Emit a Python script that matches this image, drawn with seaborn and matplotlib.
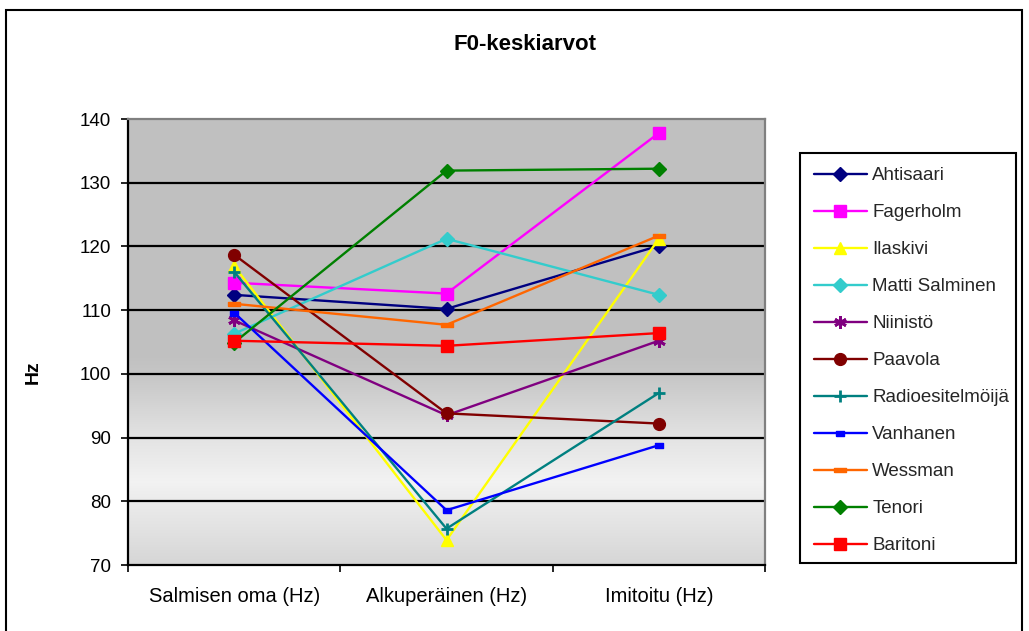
import numpy as np
import pandas as pd
import matplotlib
matplotlib.use("Agg")
import matplotlib.pyplot as plt
from matplotlib.patches import Rectangle
import seaborn as sns

# ---------------- data ----------------
categories = ["Salmisen oma (Hz)", "Alkuperäinen (Hz)", "Imitoitu (Hz)"]
speakers = ["Ahtisaari", "Fagerholm", "Ilaskivi", "Matti Salminen", "Niinistö",
            "Paavola", "Radioesitelmöijä", "Vanhanen", "Wessman", "Tenori", "Baritoni"]
ahtisaari = [112.4, 110.2, 120.1]
fagerholm = [114.3, 112.6, 137.8]
ilaskivi = [116.9, 73.9, 121.2]
matti_salminen = [106.3, 121.2, 112.4]
niinisto = [108.4, 93.5, 105.2]
paavola = [118.7, 93.8, 92.2]
radioesitelmoija = [116.0, 75.7, 97.0]
vanhanen = [109.6, 78.6, 88.8]
wessman = [111.0, 107.7, 121.7]
tenori = [104.9, 131.9, 132.2]
baritoni = [105.2, 104.4, 106.4]
series_values = [ahtisaari, fagerholm, ilaskivi, matti_salminen, niinisto, paavola,
                 radioesitelmoija, vanhanen, wessman, tenori, baritoni]
y_ticks = [70, 80, 90, 100, 110, 120, 130, 140]

rows = []
for name, vals in zip(speakers, series_values):
    for c, v in zip(categories, vals):
        rows.append({"puhuja": name, "kategoria": c, "Hz": v})
df = pd.DataFrame(rows)

# ---------------- styles ----------------
hbar = [(-1.0, -0.35), (1.0, -0.35), (1.0, 0.35), (-1.0, 0.35), (-1.0, -0.35)]
vrect = [(-1.0, -0.6), (1.0, -0.6), (1.0, 0.6), (-1.0, 0.6), (-1.0, -0.6)]
styles = {
    "Ahtisaari": dict(color="#000080", marker="D", ms=7.5),
    "Fagerholm": dict(color="#FF00FF", marker="s", ms=8),
    "Ilaskivi": dict(color="#FFFF00", marker="^", ms=9),
    "Matti Salminen": dict(color="#33CCCC", marker="D", ms=7.5),
    "Niinistö": dict(color="#800080", marker=(6, 2, 0), ms=9),
    "Paavola": dict(color="#800000", marker="o", ms=8.5),
    "Radioesitelmöijä": dict(color="#008080", marker="+", ms=9),
    "Vanhanen": dict(color="#0000FF", marker=vrect, ms=6),
    "Wessman": dict(color="#FF6600", marker=hbar, ms=9),
    "Tenori": dict(color="#008000", marker="D", ms=7.5),
    "Baritoni": dict(color="#FF0000", marker="s", ms=8),
}

sns.set_theme(style="white")
plt.rcParams["font.family"] = ["Liberation Sans", "DejaVu Sans"]

W, H = 1029, 631
fig = plt.figure(figsize=(W / 100, H / 100), dpi=100)
fig.patch.set_facecolor("white")

L, R, T, B = 128, 765, 119, 565
pos = [L / W, 1 - B / H, (R - L) / W, (B - T) / H]

# gradient background axes
bg = fig.add_axes(pos, zorder=0)
frac = np.linspace(0, 1, 400)
hz = 70 + frac * 70
grey = np.interp(hz, [70, 83, 90, 100, 103, 140], [0.84, 0.95, 0.89, 0.775, 0.753, 0.753])
img = np.repeat(grey[::-1, None], 2, axis=1)
bg.imshow(np.dstack([img, img, img]), aspect="auto", extent=(0, 1, 0, 1))
bg.set_axis_off()

ax = fig.add_axes(pos, zorder=1)
ax.set_facecolor("none")

for name in speakers:
    st = styles[name]
    sub = df[df["puhuja"] == name]
    mew = 2.0 if name in ("Radioesitelmöijä", "Niinistö") else 1.0
    sns.lineplot(data=sub, x="kategoria", y="Hz", ax=ax, sort=False, errorbar=None,
                 color=st["color"], marker=st["marker"], markersize=st["ms"],
                 markerfacecolor=st["color"], markeredgecolor=st["color"],
                 markeredgewidth=mew, linewidth=1.7, label=name)

ax.set_xlim(-0.5, 2.5)
ax.set_ylim(70, 140)
ax.set_yticks(y_ticks)
ax.set_yticklabels([str(t) for t in y_ticks])
ax.set_xticks(range(len(categories)))
ax.set_xticklabels(categories)
ax.set_xticks([-0.5, 0.5, 1.5, 2.5], minor=True)
ax.set_xlabel("")
ax.set_ylabel("")

for yv in y_ticks[1:-1]:
    ax.axhline(yv, color="black", lw=1.6, zorder=0.5)

ax.tick_params(axis="y", which="major", direction="out", length=5, width=1.2,
               color="black", labelsize=13.5, pad=7, left=True)
ax.tick_params(axis="x", which="major", length=0, labelsize=14.5, pad=16, bottom=True)
ax.tick_params(axis="x", which="minor", direction="out", length=5, width=1.2,
               color="black", bottom=True)
for lbl in ax.get_xticklabels() + ax.get_yticklabels():
    lbl.set_color("black")

for side in ("left", "bottom"):
    ax.spines[side].set_color("black")
    ax.spines[side].set_linewidth(1.6)
for side in ("top", "right"):
    ax.spines[side].set_color("#808080")
    ax.spines[side].set_linewidth(1.6)
    ax.spines[side].set_visible(True)

# legend (frame drawn separately)
leg = ax.legend(loc="upper left", bbox_to_anchor=(800 / W, 1 - 153 / H),
                bbox_transform=fig.transFigure, frameon=False,
                fontsize=13.5, handlelength=2.8,
                labelspacing=1.06, borderpad=0.75, handletextpad=0.3,
                borderaxespad=0)
fig.patches.append(Rectangle((800 / W, 1 - 563 / H), (1016 - 800) / W, (563 - 153) / H,
                             transform=fig.transFigure, facecolor="white",
                             edgecolor="black", linewidth=1.5, zorder=0.5))

fig.text(525 / W, 1 - 44 / H, "F0-keskiarvot", ha="center", va="center",
         fontsize=16, fontweight="bold", color="black")
fig.text(33 / W, 1 - 372 / H, "Hz", ha="center", va="center", rotation=90,
         fontsize=14, fontweight="bold", color="black")

fig.patches.append(Rectangle((6 / W, -0.05), (1022 - 6) / W, 1.05 - 10 / H,
                             transform=fig.transFigure, fill=False,
                             edgecolor="black", linewidth=1.5, zorder=10))

fig.savefig("out.png", dpi=100)
